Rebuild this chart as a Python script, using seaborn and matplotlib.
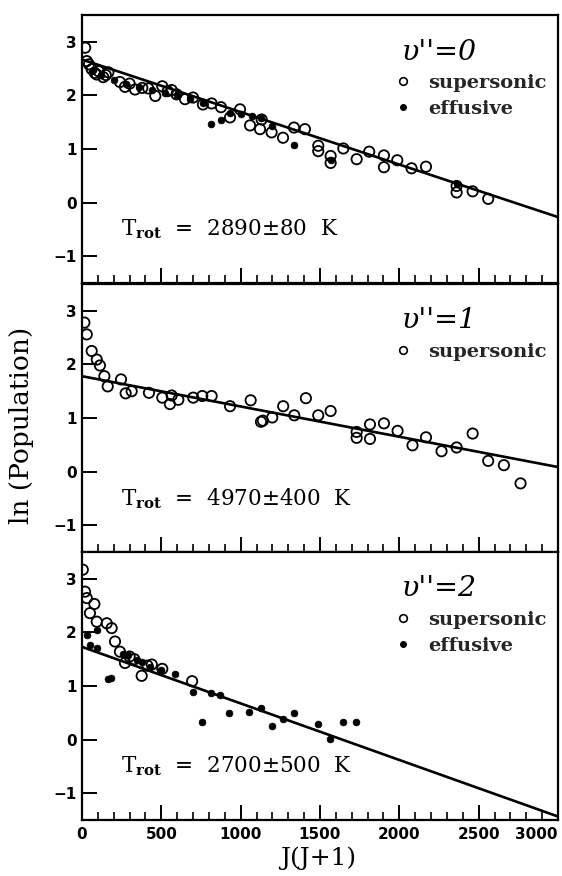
import numpy as np
import pandas as pd
import matplotlib
matplotlib.use("Agg")
import matplotlib.pyplot as plt
from matplotlib.lines import Line2D
from matplotlib.ticker import MultipleLocator
import seaborn as sns

sns.set_theme(style="white")
plt.rcParams["font.family"] = ["DejaVu Serif"]
plt.rcParams["mathtext.fontset"] = "dejavuserif"

# ---------------- data ----------------
# panel v''=0
p0_sup_x = [20, 30, 44, 61, 80, 93, 105, 134, 150, 166, 239, 271, 300, 334, 380, 418, 462, 506, 540, 565,
            596, 649, 700, 762, 817, 876, 933, 996, 1059, 1122, 1132, 1195, 1267, 1336, 1405, 1489, 1489,
            1567, 1567, 1647, 1731, 1810, 1903, 1903, 1987, 2077, 2168, 2361, 2361, 2462, 2560]
p0_sup_y = [2.89, 2.64, 2.58, 2.49, 2.42, 2.39, 2.45, 2.34, 2.38, 2.43, 2.25, 2.16, 2.22, 2.11, 2.14, 2.13,
            1.99, 2.17, 2.08, 2.10, 2.02, 1.93, 1.96, 1.83, 1.85, 1.78, 1.59, 1.74, 1.44, 1.37, 1.55, 1.31,
            1.21, 1.40, 1.37, 1.06, 0.96, 0.87, 0.74, 1.01, 0.81, 0.95, 0.88, 0.66, 0.79, 0.64, 0.67, 0.31,
            0.19, 0.21, 0.07]
p0_eff_x = [60, 120, 200, 280, 360, 440, 520, 600, 680, 760, 813, 874, 933, 1000, 1069, 1130, 1195, 1336,
            1567, 2361]
p0_eff_y = [2.45, 2.38, 2.28, 2.22, 2.15, 2.10, 2.05, 2.00, 1.93, 1.85, 1.47, 1.54, 1.68, 1.65, 1.62, 1.58,
            1.43, 1.07, 0.80, 0.34]

# panel v''=1
p1_sup_x = [15, 30, 61, 93, 113, 141, 162, 246, 275, 313, 422, 506, 554, 565, 607, 701, 758, 817, 933,
            1063, 1128, 1140, 1199, 1268, 1338, 1411, 1489, 1567, 1731, 1731, 1815, 1815, 1903, 1989, 2083,
            2168, 2266, 2361, 2462, 2560, 2659, 2764]
p1_sup_y = [2.78, 2.56, 2.25, 2.09, 1.98, 1.78, 1.59, 1.72, 1.46, 1.50, 1.47, 1.38, 1.26, 1.42, 1.34, 1.38,
            1.41, 1.41, 1.22, 1.33, 0.93, 0.95, 1.01, 1.22, 1.05, 1.37, 1.05, 1.13, 0.74, 0.63, 0.88, 0.61,
            0.90, 0.76, 0.49, 0.64, 0.38, 0.45, 0.71, 0.20, 0.12, -0.22]

# panel v''=2
p2_sup_x = [5, 19, 30, 78, 50, 93, 156, 187, 208, 239, 271, 300, 330, 376, 413, 440, 506, 694]
p2_sup_y = [3.17, 2.76, 2.64, 2.53, 2.36, 2.20, 2.17, 2.08, 1.83, 1.64, 1.43, 1.55, 1.50, 1.19, 1.38, 1.40,
            1.32, 1.09]
p2_eff_x = [30, 93, 50, 93, 166, 185, 260, 292, 345, 380, 428, 500, 586, 701, 754, 813, 869, 928, 1054,
            1126, 1195, 1268, 1338, 1489, 1563, 1643, 1727]
p2_eff_y = [1.96, 2.05, 1.77, 1.71, 1.13, 1.14, 1.60, 1.58, 1.49, 1.45, 1.35, 1.30, 1.23, 0.88, 0.32, 0.87,
            0.84, 0.50, 0.51, 0.59, 0.25, 0.39, 0.50, 0.30, 0.01, 0.32, 0.32]

# linear fits (intercept, slope)
fit_intercept = [2.67, 1.78, 1.73]
fit_slope = [-9.8e-4, -5.65e-4, -1.055e-3]

panel_titles = ["\u03c5''=0", "\u03c5''=1", "\u03c5''=2"]
trot_labels = ["2890\u00b180", "4970\u00b1400", "2700\u00b1500"]
x_ticks = [0, 500, 1000, 1500, 2000, 2500, 3000]
y_ticks = [-1, 0, 1, 2, 3]

panels = [
    (p0_sup_x, p0_sup_y, p0_eff_x, p0_eff_y),
    (p1_sup_x, p1_sup_y, None, None),
    (p2_sup_x, p2_sup_y, p2_eff_x, p2_eff_y),
]

# ---------------- figure ----------------
W, H = 562, 876
fig = plt.figure(figsize=(W / 100, H / 100), dpi=100)
left = 82 / W
width = (558 - 82) / W
ph = 268 / H
tops = [15, 284, 552]

sans_bold = dict(family="DejaVu Sans", weight="bold", size=11)

for i, (sx, sy, ex, ey) in enumerate(panels):
    bottom = 1 - (tops[i] + 268) / H
    ax = fig.add_axes([left, bottom, width, ph])
    ax.set_facecolor("white")

    xx = np.array([0, 3000])
    line_df = pd.DataFrame({"x": xx, "y": fit_intercept[i] + fit_slope[i] * xx})
    sns.lineplot(data=line_df, x="x", y="y", ax=ax, color="black", linewidth=1.9, zorder=2)

    sup_df = pd.DataFrame({"x": sx, "y": sy})
    sns.scatterplot(data=sup_df, x="x", y="y", ax=ax, marker="o", s=55,
                    facecolors="none", edgecolor="black", linewidth=1.3, zorder=3)
    handles = [Line2D([], [], linestyle="none", marker="o", markersize=5.5,
                      markerfacecolor="none", markeredgecolor="black", markeredgewidth=1.2)]
    labels = ["supersonic"]
    if ex is not None:
        eff_df = pd.DataFrame({"x": ex, "y": ey})
        sns.scatterplot(data=eff_df, x="x", y="y", ax=ax, marker="o", s=24,
                        color="black", edgecolor="black", linewidth=0.5, zorder=4)
        handles.append(Line2D([], [], linestyle="none", marker="o", markersize=4,
                              markerfacecolor="black", markeredgecolor="black"))
        labels.append("effusive")

    ax.set_xlim(0, 3000)
    ax.set_ylim(-1.5, 3.5)
    ax.set_xlabel("")
    ax.set_ylabel("")
    ax.set_xticks(x_ticks)
    ax.xaxis.set_minor_locator(MultipleLocator(100))
    ax.set_yticks(y_ticks)
    ax.tick_params(axis="both", which="major", direction="in", length=11, width=1.4,
                   colors="black", bottom=True, left=True, top=False, right=False)
    ax.tick_params(axis="x", which="minor", direction="in", length=5.5, width=1.2,
                   bottom=True, top=False, colors="black")
    ax.tick_params(axis="y", which="major", pad=4)
    ax.tick_params(axis="x", which="major", pad=5)
    ax.set_yticklabels(["\u22121", "0", "1", "2", "3"], fontdict=sans_bold)
    if i == 2:
        ax.set_xticklabels([str(t) for t in x_ticks], fontdict=sans_bold)
        ax.get_xticklabels()[-1].set_horizontalalignment("right")
    else:
        ax.set_xticklabels([])
    for sp in ax.spines.values():
        sp.set_visible(True)
        sp.set_color("black")
        sp.set_linewidth(1.6)

    # panel title
    ax.text((402 - 82) / 476, 1 - 37 / 268, panel_titles[i], transform=ax.transAxes,
            fontsize=20.5, style="italic", va="center", ha="left", color="black")
    # legend entries
    ax.legend(handles, labels, loc="upper left",
              bbox_to_anchor=((393 - 82) / 476, 1 - 59 / 268),
              frameon=False, borderpad=0, borderaxespad=0, handlelength=1.0,
              handletextpad=0.8, labelspacing=0.4,
              prop=dict(family="DejaVu Serif", weight="bold", size=14))
    # T_rot annotation
    ax.text((121 - 82) / 476, 0.2, r"T$_{\mathbf{rot}}$  =  " + trot_labels[i] + "  K",
            transform=ax.transAxes, fontsize=15.5, va="center", ha="left", color="black")

fig.text(22 / W, 1 - 425 / H, "ln (Population)", rotation=90, fontsize=19,
         va="center", ha="center", color="black")
fig.text(318 / W, 1 - 858 / H, "J(J+1)", fontsize=18, va="center", ha="center", color="black")

fig.savefig("out.png", dpi=100, facecolor="white")
